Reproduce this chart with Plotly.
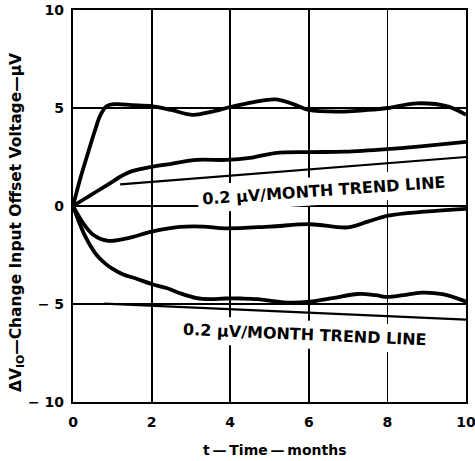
import plotly.graph_objects as go

# ---- data ----
curve_a_x = [0, 0.2, 0.35, 0.55, 0.7, 0.86, 1.1, 1.5, 2.0, 2.5, 3.05, 3.5, 4.0, 4.6, 5.15, 5.6, 6.0, 6.9, 7.5, 8.0, 8.75, 9.55, 10]
curve_a_y = [0, 1.5, 2.5, 3.8, 4.65, 5.1, 5.2, 5.15, 5.1, 4.9, 4.65, 4.8, 5.05, 5.3, 5.44, 5.2, 4.9, 4.82, 4.9, 5.0, 5.24, 5.07, 4.65]

curve_b_x = [0, 0.3, 0.6, 0.94, 1.28, 1.5, 2.0, 2.5, 3.15, 3.9, 4.5, 5.14, 6.0, 6.92, 8.0, 8.78, 10]
curve_b_y = [0, 0.37, 0.74, 1.16, 1.58, 1.78, 2.0, 2.15, 2.35, 2.35, 2.45, 2.7, 2.75, 2.77, 2.9, 3.03, 3.27]

curve_c_x = [0, 0.26, 0.52, 0.86, 1.37, 2.0, 2.72, 3.31, 3.87, 5.0, 6.03, 7.0, 7.5, 8.02, 8.96, 10]
curve_c_y = [0, -0.88, -1.48, -1.77, -1.65, -1.31, -1.07, -1.05, -1.14, -1.05, -0.93, -1.09, -0.8, -0.49, -0.29, -0.15]

curve_d_x = [0, 0.15, 0.3, 0.45, 0.6, 0.8, 1.0, 1.28, 1.6, 2.0, 2.4, 2.72, 3.15, 3.5, 3.87, 4.3, 4.7, 5.1, 5.47, 6.03, 6.6, 7.25, 7.7, 8.0, 8.4, 8.87, 9.4, 10]
curve_d_y = [0, -0.8, -1.5, -2.05, -2.5, -2.9, -3.2, -3.5, -3.7, -3.98, -4.2, -4.45, -4.7, -4.75, -4.72, -4.72, -4.75, -4.85, -4.93, -4.88, -4.7, -4.49, -4.55, -4.64, -4.55, -4.42, -4.5, -4.88]

trend_up_x = [1.2, 10]
trend_up_y = [1.1, 2.5]
trend_dn_x = [0.8, 10]
trend_dn_y = [-4.98, -5.8]

x_ticks = [0, 2, 4, 6, 8, 10]
x_tick_labels = ["0", "2", "4", "6", "8", "10"]
y_ticks = [-10, -5, 0, 5, 10]
y_tick_labels = ["\u2212 10", "\u2212 5", "0", "5", "10"]

trend_label = "0.2 \u03bcV/MONTH TREND LINE"
x_title = "t\u2009\u2014\u2009Time\u2009\u2014\u2009months"
y_title = "\u0394V<sub>IO</sub>\u2014Change Input Offset Voltage\u2014\u03bcV"

FONT = "DejaVu Sans"

fig = go.Figure()
for xs, ys in [(curve_a_x, curve_a_y), (curve_b_x, curve_b_y),
               (curve_c_x, curve_c_y), (curve_d_x, curve_d_y)]:
    fig.add_trace(go.Scatter(x=xs, y=ys, mode="lines",
                             line=dict(color="black", width=3.8, shape="spline", smoothing=1.0),
                             showlegend=False, hoverinfo="skip"))
for xs, ys in [(trend_up_x, trend_up_y), (trend_dn_x, trend_dn_y)]:
    fig.add_trace(go.Scatter(x=xs, y=ys, mode="lines",
                             line=dict(color="black", width=2.2),
                             showlegend=False, hoverinfo="skip"))

axis_common = dict(showgrid=True, gridcolor="black", gridwidth=1.8,
                   zeroline=True, zerolinecolor="black", zerolinewidth=1.8,
                   showline=True, linecolor="black", linewidth=2.2, mirror=True,
                   automargin=False, ticklabeloverflow="allow",
                   ticks="", tickfont=dict(family=FONT, size=14, color="black", weight="bold"))

fig.update_xaxes(range=[0, 10], tickvals=x_ticks, ticktext=x_tick_labels,
                 ticklabelstandoff=6, **axis_common)
fig.update_yaxes(range=[-10, 10], tickvals=y_ticks, ticktext=y_tick_labels,
                 ticklabelstandoff=4, **axis_common)

fig.add_annotation(x=6.39, y=0.8, xref="x", yref="y", text=trend_label, showarrow=False,
                   textangle=-4, bgcolor="white", borderpad=4,
                   font=dict(family=FONT, size=16, color="black", weight="bold"))
fig.add_annotation(x=5.9, y=-6.55, xref="x", yref="y", text=trend_label, showarrow=False,
                   textangle=2.5, bgcolor="white", borderpad=4,
                   font=dict(family=FONT, size=16, color="black", weight="bold"))

fig.add_annotation(x=-0.1425, y=0.459, xref="paper", yref="paper", text=y_title, showarrow=False,
                   textangle=-90, xanchor="center", yanchor="middle",
                   font=dict(family=FONT, size=15.5, color="black", weight="bold"))
fig.add_annotation(x=0.513, y=-0.1224, xref="paper", yref="paper", text=x_title, showarrow=False,
                   xanchor="center", yanchor="middle",
                   font=dict(family=FONT, size=14, color="black", weight="bold"))

fig.update_layout(width=475, height=461, margin=dict(l=73, r=9, t=10, b=59),
                  paper_bgcolor="white", plot_bgcolor="white")

fig.write_html("out.html", config={"displayModeBar": False, "staticPlot": True},
               post_script="document.body.style.margin='0px';")
